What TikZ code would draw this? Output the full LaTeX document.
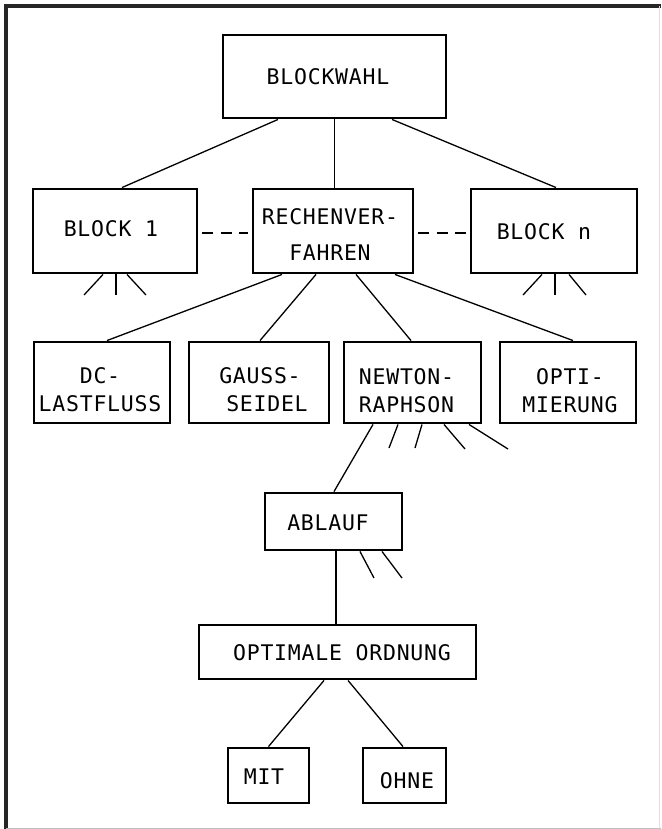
\documentclass[tikz,border=0pt]{standalone}
\usepackage{fontspec}
\newfontfamily\boxfont[LetterSpace=3.5]{DejaVu Sans Mono}
\begin{document}
\begin{tikzpicture}[x=1pt,y=-1pt,
  box/.style={draw, line width=2.9pt, inner sep=0pt},
  lbl/.style={font=\boxfont\fontsize{21.5}{28}\selectfont, align=center, inner sep=0pt},
  con/.style={line width=1.3pt},
  dashcon/.style={line width=1.3pt, dash pattern=on 11pt off 7.5pt, shorten <=4pt, shorten >=4pt},
  framel/.style={line width=3.5pt, black!85},
  framelight/.style={line width=1pt, black!25}]
\useasboundingbox (0,0) rectangle (661,829);
% frame
\draw[framel] (4,6) -- (661,6);
\draw[framel] (6,4) -- (6,829);
\draw[framelight] (6,828) -- (661,828);
\draw[line width=0.8pt, black!12] (659,6) -- (659,828);

% boxes
\node[box, minimum width=223pt, minimum height=83pt,
  label={[lbl, name=bwt, xshift=-6.5pt]center:BLOCKWAHL}] (bw) at (334.5,76.5) {};
\node[box, minimum width=164pt, minimum height=84pt,
  label={[lbl, name=b1t, xshift=-4pt, yshift=2pt]center:BLOCK 1}] (b1) at (115,231) {};
\node[box, minimum width=160pt, minimum height=84pt,
  label={[lbl, name=rvt, xshift=-3pt, yshift=-4pt]center:{RECHENVER-\\[8pt]FAHREN}}] (rv) at (333,231) {};
\node[box, minimum width=166pt, minimum height=84pt,
  label={[lbl, name=bnt, xshift=-10pt, yshift=-1pt]center:BLOCK n}] (bn) at (554,231) {};

\node[box, minimum width=136pt, minimum height=81pt,
  label={[lbl, name=dct, xshift=-2pt, yshift=-7pt]center:{DC-\\LASTFLUSS}}] (dc) at (102,382.5) {};
\node[box, minimum width=140pt, minimum height=81pt,
  label={[lbl, name=gst, xshift=1pt, yshift=-7pt]center:{GAUSS-\\\hspace*{14pt}SEIDEL}}] (gs) at (259,382.5) {};
\node[box, minimum width=137pt, minimum height=81pt,
  label={[lbl, name=nrt, xshift=-6pt, yshift=-8pt]center:{NEWTON-\\RAPHSON}}] (nr) at (412.5,382.5) {};
\node[box, minimum width=136pt, minimum height=81pt,
  label={[lbl, name=opt, xshift=2pt, yshift=-8pt]center:{OPTI-\\MIERUNG}}] (op) at (568,382.5) {};

\node[box, minimum width=137pt, minimum height=57pt,
  label={[lbl, name=abt, xshift=-5.5pt, yshift=-1.5pt]center:ABLAUF}] (ab) at (333.5,521.5) {};
\node[box, minimum width=277pt, minimum height=54pt,
  label={[lbl, name=oot, xshift=4.5pt, yshift=-1pt]center:OPTIMALE ORDNUNG}] (oo) at (337.5,652) {};
\node[box, minimum width=81pt, minimum height=55pt,
  label={[lbl, name=mitt, xshift=-4.5pt, yshift=-1.5pt]center:MIT}] (mit) at (268.5,775.5) {};
\node[box, minimum width=83pt, minimum height=55pt,
  label={[lbl, name=ohnet, xshift=2.5pt, yshift=-5.5pt]center:OHNE}] (ohne) at (404.5,775.5) {};

% connectors
\draw[con] ([xshift=-56.5pt]bw.south) -- ([xshift=7pt]b1.north);
\draw[con] (bw.south) -- ([xshift=1.5pt]rv.north);
\draw[con] ([xshift=57.5pt]bw.south) -- ([xshift=2pt]bn.north);
\draw[dashcon] ([yshift=-2pt]b1.east) -- ([yshift=-2pt]rv.west);
\draw[dashcon] ([yshift=-2pt]rv.east) -- ([yshift=-2pt]bn.west);

\draw[con] ([xshift=-51pt]rv.south) -- ([xshift=5pt]dc.north);
\draw[con] ([xshift=-17pt]rv.south) -- ([xshift=1pt]gs.north);
\draw[con] ([xshift=23pt]rv.south) -- ([xshift=-1.5pt]nr.north);
\draw[con] ([xshift=62pt]rv.south) -- ([xshift=5pt]op.north);

\draw[con] ([xshift=-39.5pt]nr.south) -- ([xshift=0.5pt]ab.north);
\draw[con] ([xshift=2.5pt]ab.south) -- ([xshift=-1.5pt]oo.north);
\draw[con] ([xshift=-13.5pt]oo.south) -- (mit.north);
\draw[con] ([xshift=10.5pt]oo.south) -- ([xshift=-1.5pt]ohne.north);

% stubs (open ends)
\coordinate (b1s1) at (84,295);
\coordinate (b1s2) at (116,295);
\coordinate (b1s3) at (146,295);
\draw[con] ([xshift=-12pt]b1.south) -- (b1s1);
\draw[con] ([xshift=1pt]b1.south) -- (b1s2);
\draw[con] ([xshift=12pt]b1.south) -- (b1s3);

\coordinate (bns1) at (523,295);
\coordinate (bns2) at (555,295);
\coordinate (bns3) at (586,295);
\draw[con] ([xshift=-12pt]bn.south) -- (bns1);
\draw[con] ([xshift=1pt]bn.south) -- (bns2);
\draw[con] ([xshift=15pt]bn.south) -- (bns3);

\coordinate (nrs1) at (389,448);
\coordinate (nrs2) at (415,448);
\coordinate (nrs3) at (465,449);
\coordinate (nrs4) at (508,449);
\draw[con] ([xshift=-14.5pt]nr.south) -- (nrs1);
\draw[con] ([xshift=9.5pt]nr.south) -- (nrs2);
\draw[con] ([xshift=31.5pt]nr.south) -- (nrs3);
\draw[con] ([xshift=56.5pt]nr.south) -- (nrs4);

\coordinate (abs1) at (374,578);
\coordinate (abs2) at (402,578);
\draw[con] ([xshift=26.5pt]ab.south) -- (abs1);
\draw[con] ([xshift=48.5pt]ab.south) -- (abs2);
\end{tikzpicture}
\end{document}
